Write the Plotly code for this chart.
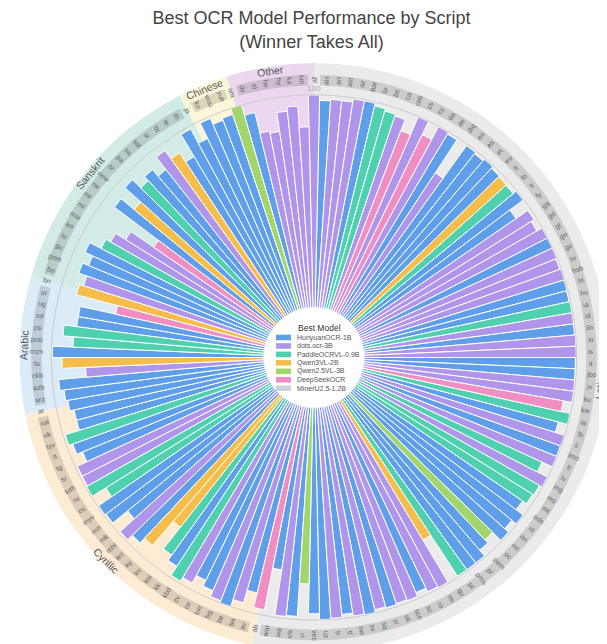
import math
import plotly.graph_objects as go

# ---------------- data ----------------
models = ["HunyuanOCR-1B", "dots.ocr-3B", "PaddleOCRVL-0.9B", "Qwen3VL-2B",
          "Qwen2.5VL-3B", "DeepSeekOCR", "MinerU2.5-1.2B"]
model_codes = ["H", "D", "P", "Q", "W", "S", "M"]
model_colors = ["#5F9EE8", "#B096EA", "#4FD0AE", "#F5BD4A", "#A2D66C", "#EE8EC3", "#CDD2D8"]

scripts = ["Latin", "Cyrillic", "Arabic", "Sanskrit", "Chinese", "Other"]
script_tint = ["#EBEBEB", "#FDEBD4", "#DCEBF8", "#D3EBE6", "#FCF6D8", "#ECD8EE"]
script_label_r = [111.8, 113, 113, 113, 113, 113]

latin_langs = ["af", "als", "an", "ast", "az", "bar", "br", "bs", "ca", "ceb", "cs", "cy", "da",
               "de", "diq", "eo", "es", "et", "eu", "fi", "fo", "fr", "fy", "ga", "gd", "gl", "gn",
               "gv", "hr", "hsb", "ht", "hu", "ia", "id", "ilo", "io", "is", "it", "jbo", "jv",
               "ku", "kw", "la", "lb", "li", "lmo", "lt", "lv", "mg", "ms", "mt", "nds", "nl",
               "nn", "no", "oc", "pam", "pl", "pms", "pt", "qu", "rm", "ro", "sc", "sco", "sk",
               "sl", "sq", "sv", "sw", "tl", "tr", "uz", "vec", "vi", "vls", "wa", "war"]
latin_best = ["D", "H", "D", "D", "D", "H", "P", "P", "D", "S", "D", "S", "D",
              "H", "D", "H", "H", "H", "H", "Q", "P", "H", "H", "D", "D", "D", "H",
              "D", "D", "D", "H", "H", "P", "D", "H", "D", "D", "H", "H", "D",
              "D", "S", "P", "H", "D", "H", "D", "P", "D", "P", "P", "H", "H",
              "H", "H", "W", "H", "H", "H", "P", "Q", "D", "D", "H", "D", "D",
              "H", "D", "H", "D", "H", "D", "H", "H", "W", "H", "D", "H"]
latin_score = [100, 97.4, 98.1, 98, 99.5, 99.5, 98.2, 97.1, 96.3, 90.7, 99.8, 93, 99.8,
               98.9, 80.4, 99.3, 98.5, 99.5, 98.5, 98, 97.8, 99.6, 91.8, 98.6, 97, 99.8, 99.8,
               99.8, 99.3, 99.8, 99.6, 99.3, 99.6, 99.6, 99.5, 99.8, 99.8, 99.4, 99.4, 99.6,
               99.6, 95.5, 99.8, 95.3, 99.8, 99.6, 99.8, 94.5, 99.8, 98.4, 97.8, 95.5, 99.6,
               97, 99.4, 94, 96, 99.5, 99.5, 99.5, 76.5, 99.5, 99, 97, 99, 98.5,
               99, 98.5, 99.8, 99.5, 98, 99.4, 99.8, 97, 83, 98.5, 99, 77.5]

cyrillic_langs = ["ab", "av", "ba", "be", "bg", "bxr", "ce", "cv", "kbd", "kk", "koi", "kv",
                  "ky", "lez", "mhr", "mk", "mn", "myv", "os", "ru", "sah", "sr", "tg", "tt",
                  "tyv", "uk", "xal"]
cyrillic_best = ["S", "H", "D", "H", "D", "H", "H", "D", "P", "H", "P", "Q",
                 "Q", "H", "D", "H", "H", "H", "P", "P", "D", "D", "H", "H",
                 "P", "H", "H"]
cyrillic_score = [97.4, 90.4, 96.5, 100, 99, 96, 93, 97, 99, 94, 91, 78,
                  93, 96, 99, 90, 99, 99.5, 92, 99.5, 99, 99, 94, 97,
                  99, 92, 92]

arabic_langs = ["ar", "arz", "azb", "ckb", "fa", "mzn", "pnb", "ps", "sd", "ug", "ur"]
arabic_best = ["H", "H", "H", "D", "Q", "H", "P", "P", "H", "H", "S"]
arabic_score = [94, 95, 97, 84, 95, 99.5, 90, 95, 89, 89, 72]

sanskrit_langs = ["bn", "bo", "gom", "gu", "hi", "kn", "mai", "ml", "mr", "ne", "new",
                  "or", "pa", "sa", "sat", "si", "ta", "te", "th"]
sanskrit_best = ["Q", "D", "H", "H", "H", "P", "D", "D", "S", "H", "Q",
                 "H", "P", "H", "H", "D", "Q", "H", "H"]
sanskrit_score = [92, 90, 94, 91, 95, 89, 86.5, 81, 68, 94, 86,
                  96, 90.4, 93, 89, 96.4, 91.7, 86.5, 98.6]

chinese_langs = ["ja", "ko", "wuu", "yue"]
chinese_best = ["H", "H", "H", "H"]
chinese_score = [91, 99, 96, 97]

other_langs = ["am", "dv", "el", "he", "hy", "ka", "km"]
other_best = ["W", "H", "D", "D", "D", "D", "D"]
other_score = [100, 95, 85, 84, 93, 95, 85]

group_langs = [latin_langs, cyrillic_langs, arabic_langs, sanskrit_langs, chinese_langs, other_langs]
group_best = [latin_best, cyrillic_best, arabic_best, sanskrit_best, chinese_best, other_best]
group_score = [latin_score, cyrillic_score, arabic_score, sanskrit_score, chinese_score, other_score]

# ---------------- geometry ----------------
W, H = 607, 644
ML, MR, MT, MB = 5, 0, 55, 0
RMAX = 115
HOLE = 0.17

langs, best, score = [], [], []
for ls, bs, ss in zip(group_langs, group_best, group_score):
    langs += ls; best += bs; score += ss
N = len(langs)
step = 360.0 / N
theta = [i * step for i in range(N)]

fig = go.Figure()

# sector tints and label band
start = 0
for g, ls in enumerate(group_langs):
    n = len(ls)
    a0, a1 = start * step, (start + n) * step
    fig.add_trace(go.Barpolar(theta=[(a0 + a1) / 2], r=[RMAX], width=[a1 - a0], base=0,
                              marker=dict(color=script_tint[g], line=dict(width=0)),
                              showlegend=False, hoverinfo="skip"))
    b0, b1 = a0 + step / 2, a1 - step / 2
    fig.add_trace(go.Barpolar(theta=[(b0 + b1) / 2], r=[5], width=[b1 - b0], base=104.5,
                              marker=dict(color="rgba(0,0,0,0.13)", line=dict(width=0)),
                              showlegend=False, hoverinfo="skip"))
    start += n

# 100 reference circle
circ = [i * 0.5 for i in range(721)]
fig.add_trace(go.Scatterpolar(theta=circ, r=[100] * len(circ), mode="lines",
                              line=dict(color="#C9C9C9", width=1),
                              showlegend=False, hoverinfo="skip"))

# bars per model
for code, name, col in zip(model_codes, models, model_colors):
    idx = [i for i in range(N) if best[i] == code]
    fig.add_trace(go.Barpolar(
        theta=[theta[i] for i in idx] if idx else [None],
        r=[score[i] for i in idx] if idx else [None],
        width=step, name=name, showlegend=False,
        marker=dict(color=col, line=dict(color="white", width=1)),
    ))

fig.add_trace(go.Scatterpolar(theta=[0], r=[102.6], mode="text", text=["100"],
                              textfont=dict(size=8, color="#AAAAAA"),
                              showlegend=False, hoverinfo="skip"))

pw, ph = W - ML - MR, H - MT - MB
R = min(pw, ph) / 2
cx, cy = ML + pw / 2, MT + ph / 2
rh = HOLE * R


def px_to_paper(x, y):
    return (x - ML) / pw, 1 - (y - MT) / ph


def paper(phi, v):
    rho = rh + v / RMAX * (R - rh)
    x = cx + rho * math.sin(math.radians(phi))
    y = cy - rho * math.cos(math.radians(phi))
    return px_to_paper(x, y)


annotations = []
for i, lab in enumerate(langs):
    phi = theta[i]
    x, y = paper(phi, 107)
    ang = phi - 90 if phi <= 180 else phi - 270
    annotations.append(dict(x=x, y=y, xref="paper", yref="paper", text=lab, showarrow=False,
                            textangle=ang, font=dict(size=7, color="#666666"),
                            xanchor="center", yanchor="middle"))
start = 0
for g, ls in enumerate(group_langs):
    n = len(ls)
    phi = (start + n / 2) * step
    x, y = paper(phi, script_label_r[g])
    ang = phi if (phi < 90 or phi > 270) else phi - 180
    if ang > 180:
        ang -= 360
    annotations.append(dict(x=x, y=y, xref="paper", yref="paper", text=scripts[g],
                            showarrow=False, textangle=ang,
                            font=dict(size=10.5, color="#555555"),
                            xanchor="center", yanchor="middle"))
    start += n

# compact legend in the hole
shapes = []
tx, ty = px_to_paper(cx - 18, cy - 30)
annotations.append(dict(x=tx, y=ty, xref="paper", yref="paper", text="Best Model",
                        showarrow=False, xanchor="left", yanchor="middle",
                        font=dict(size=8.5, color="#333333")))
for k, (name, col) in enumerate(zip(models, model_colors)):
    yc = cy - 20 + k * 8.45
    x0, y0 = px_to_paper(cx - 38, yc - 2.8)
    x1, y1 = px_to_paper(cx - 23, yc + 2.8)
    shapes.append(dict(type="rect", xref="paper", yref="paper", x0=x0, x1=x1, y0=y0, y1=y1,
                       fillcolor=col, line=dict(width=0)))
    ax, ay = px_to_paper(cx - 19.5, yc)
    annotations.append(dict(x=ax, y=ay, xref="paper", yref="paper", text=name,
                            showarrow=False, xanchor="left", yanchor="middle",
                            font=dict(size=7, color="#555555")))

fig.update_layout(
    width=W, height=H,
    margin=dict(l=ML, r=MR, t=MT, b=MB),
    paper_bgcolor="white",
    showlegend=False,
    font=dict(family="Arial, Liberation Sans, sans-serif"),
    title=dict(text="Best OCR Model Performance by Script<br>(Winner Takes All)",
               x=0.5, xanchor="center", y=0.975, yanchor="middle",
               font=dict(size=18, color="#444444")),
    polar=dict(
        bgcolor="white",
        hole=HOLE,
        bargap=0,
        radialaxis=dict(range=[0, RMAX], visible=False),
        angularaxis=dict(rotation=90, direction="clockwise", visible=False),
    ),
    annotations=annotations,
    shapes=shapes,
)
fig.write_html("out.html")
